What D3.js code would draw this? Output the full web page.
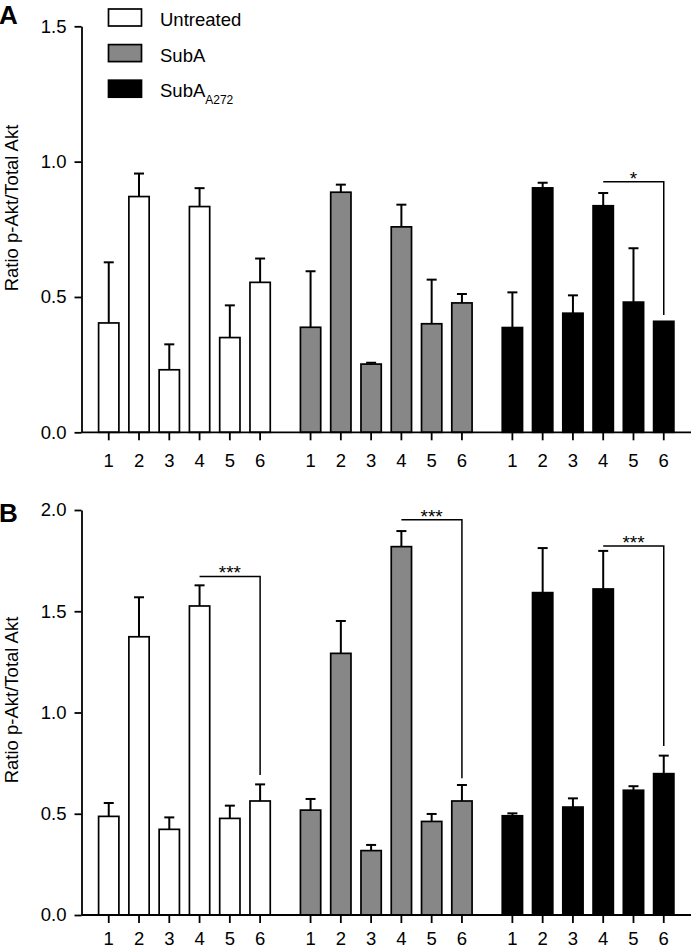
<!DOCTYPE html>
<html>
<head>
<meta charset="utf-8">
<script src="https://cdn.jsdelivr.net/npm/d3@7"></script>
<style>
  html, body { margin: 0; padding: 0; background: #fff; }
  svg { display: block; }
  text { font-family: "Liberation Sans", Arial, sans-serif; fill: #000; }
</style>
</head>
<body>
<svg id="chart" width="693" height="948"></svg>
<script>
// ---------------- DATA ----------------
const groups = ["Untreated", "SubA", "SubA_A272"];
const lanes = ["1", "2", "3", "4", "5", "6"];

// Panel A: mean ratio p-Akt/Total Akt and upper error
const meanA_Untreated = [0.404, 0.871, 0.231, 0.834, 0.350, 0.554];
const errA_Untreated  = [0.224, 0.085, 0.094, 0.068, 0.119, 0.088];
const meanA_SubA      = [0.388, 0.887, 0.252, 0.759, 0.401, 0.478];
const errA_SubA       = [0.207, 0.028, 0.005, 0.082, 0.163, 0.033];
const meanA_A272      = [0.387, 0.903, 0.440, 0.837, 0.481, 0.410];
const errA_A272       = [0.130, 0.019, 0.066, 0.047, 0.199, 0.000];

// Panel B
const meanB_Untreated = [0.487, 1.374, 0.423, 1.526, 0.477, 0.563];
const errB_Untreated  = [0.066, 0.195, 0.059, 0.102, 0.063, 0.082];
const meanB_SubA      = [0.518, 1.292, 0.318, 1.819, 0.462, 0.563];
const errB_SubA       = [0.055, 0.160, 0.028, 0.077, 0.037, 0.079];
const meanB_A272      = [0.490, 1.592, 0.533, 1.610, 0.616, 0.698];
const errB_A272       = [0.012, 0.220, 0.043, 0.188, 0.020, 0.089];

const yTicksA = [0, 0.5, 1.0, 1.5];
const yTicksB = [0, 0.5, 1.0, 1.5, 2.0];

// Significance brackets: group, from lane, to lane, bracket level, drop-to level, label
const sigA = [ { group: "SubA_A272", from: "4", to: "6", level: 0.926, drop: 0.433, label: "*" } ];
const sigB = [
  { group: "Untreated", from: "4", to: "6", level: 1.672, drop: 0.691, label: "***" },
  { group: "SubA",      from: "4", to: "6", level: 1.952, drop: 0.675, label: "***" },
  { group: "SubA_A272", from: "4", to: "6", level: 1.822, drop: 0.835, label: "***" }
];

const legendLabels = [
  { key: "Untreated", main: "Untreated", sub: "" },
  { key: "SubA", main: "SubA", sub: "" },
  { key: "SubA_A272", main: "SubA", sub: "A272" }
];

// ---------------- STYLE / LAYOUT ----------------
const fills = { "Untreated": "#ffffff", "SubA": "#878787", "SubA_A272": "#000000" };
const FONT = 18.5;

const svg = d3.select("#chart");
svg.append("rect").attr("width", 693).attr("height", 948).attr("fill", "#fff");

const axisLeftX = 81.5;
const axisRightX = 691;

const xOuter = d3.scaleBand().domain(groups)
  .range([axisLeftX, axisRightX]).paddingInner(0.1).paddingOuter(0.06);
const xInner = d3.scaleBand().domain(lanes)
  .range([0, xOuter.bandwidth()]).paddingInner(0.33).paddingOuter(0.165);
const cx = (g, l) => xOuter(g) + xInner(l) + xInner.bandwidth() / 2;

function buildRows(means, errs) {
  return lanes.map((l, i) => ({ lane: l, mean: means[i], err: errs[i] }));
}

const panels = [
  {
    letter: "A", letterY: 23.5, y0: 432.3, y1: 26.3, max: 1.5, ticks: yTicksA, titleY: 208, labPad: 14,
    data: {
      "Untreated": buildRows(meanA_Untreated, errA_Untreated),
      "SubA": buildRows(meanA_SubA, errA_SubA),
      "SubA_A272": buildRows(meanA_A272, errA_A272)
    },
    sig: sigA, legend: true
  },
  {
    letter: "B", letterY: 521.5, y0: 915, y1: 510, max: 2.0, ticks: yTicksB, titleY: 700, labPad: 8.5,
    data: {
      "Untreated": buildRows(meanB_Untreated, errB_Untreated),
      "SubA": buildRows(meanB_SubA, errB_SubA),
      "SubA_A272": buildRows(meanB_A272, errB_A272)
    },
    sig: sigB, legend: false
  }
];

panels.forEach(p => {
  const y = d3.scaleLinear().domain([0, p.max]).range([p.y0, p.y1]);
  const g = svg.append("g");

  // panel letter
  g.append("text").attr("x", -1).attr("y", p.letterY)
    .attr("font-size", 26).attr("font-weight", "bold").text(p.letter);

  // y title
  g.append("text")
    .attr("transform", `translate(17.5,${p.titleY}) rotate(-90)`)
    .attr("text-anchor", "middle").attr("font-size", FONT)
    .text("Ratio p-Akt/Total Akt");

  // bars
  groups.forEach(grp => {
    const rows = p.data[grp];
    const gg = g.append("g");
    gg.selectAll("rect.bar").data(rows).join("rect")
      .attr("class", "bar")
      .attr("x", d => xOuter(grp) + xInner(d.lane))
      .attr("y", d => y(d.mean))
      .attr("width", xInner.bandwidth())
      .attr("height", d => y(0) - y(d.mean))
      .attr("fill", fills[grp]).attr("stroke", "#000").attr("stroke-width", 1.7);

    // error bars (upper only)
    const eb = gg.selectAll("g.eb").data(rows.filter(d => d.err > 0)).join("g").attr("class", "eb");
    eb.append("line")
      .attr("x1", d => cx(grp, d.lane)).attr("x2", d => cx(grp, d.lane))
      .attr("y1", d => y(d.mean)).attr("y2", d => y(d.mean + d.err))
      .attr("stroke", "#000").attr("stroke-width", 2);
    eb.append("line")
      .attr("x1", d => cx(grp, d.lane) - 5).attr("x2", d => cx(grp, d.lane) + 5)
      .attr("y1", d => y(d.mean + d.err)).attr("y2", d => y(d.mean + d.err))
      .attr("stroke", "#000").attr("stroke-width", 2);

    // x axis ticks per group
    const ax = g.append("g")
      .attr("transform", `translate(${xOuter(grp)},${y(0)})`)
      .call(d3.axisBottom(xInner).tickSize(8).tickSizeOuter(0).tickPadding(p.labPad));
    ax.select(".domain").remove();
    ax.selectAll(".tick line").attr("stroke", "#000").attr("stroke-width", 1.8);
    ax.selectAll(".tick text").attr("font-size", FONT)
      .attr("font-family", "'Liberation Sans', Arial, sans-serif").attr("fill", "#000");
  });

  // x baseline
  g.append("line").attr("x1", axisLeftX).attr("x2", axisRightX)
    .attr("y1", y(0)).attr("y2", y(0)).attr("stroke", "#000").attr("stroke-width", 1.8);

  // y axis
  const ya = g.append("g").attr("transform", `translate(${axisLeftX},0)`)
    .call(d3.axisLeft(y).tickValues(p.ticks).tickFormat(d3.format(".1f"))
      .tickSize(7).tickSizeOuter(0).tickPadding(8));
  ya.select(".domain").attr("stroke", "#000").attr("stroke-width", 1.8);
  ya.selectAll(".tick line").attr("stroke", "#000").attr("stroke-width", 1.8);
  ya.selectAll(".tick text").attr("font-size", FONT)
    .attr("font-family", "'Liberation Sans', Arial, sans-serif").attr("fill", "#000");

  // significance brackets
  p.sig.forEach(s => {
    const xa = cx(s.group, s.from), xb = cx(s.group, s.to);
    g.append("path")
      .attr("d", `M${xa},${y(s.level)}H${xb}V${y(s.drop)}`)
      .attr("fill", "none").attr("stroke", "#000").attr("stroke-width", 1.5);
    g.append("text").attr("x", (xa + xb) / 2).attr("y", y(s.level) + 3)
      .attr("text-anchor", "middle").attr("font-size", 19).text(s.label);
  });

  // legend
  if (p.legend) {
    legendLabels.forEach((L, i) => {
      const top = 9 + i * 35.6;
      g.append("rect").attr("x", 108.5).attr("y", top).attr("width", 33).attr("height", 17)
        .attr("fill", fills[L.key]).attr("stroke", "#000").attr("stroke-width", 1.7);
      const t = g.append("text").attr("x", 160).attr("y", top + 17).attr("font-size", FONT);
      t.append("tspan").text(L.main);
      if (L.sub) t.append("tspan").attr("font-size", 12).attr("dy", 6.5).text(L.sub);
    });
  }
});
</script>
</body>
</html>
